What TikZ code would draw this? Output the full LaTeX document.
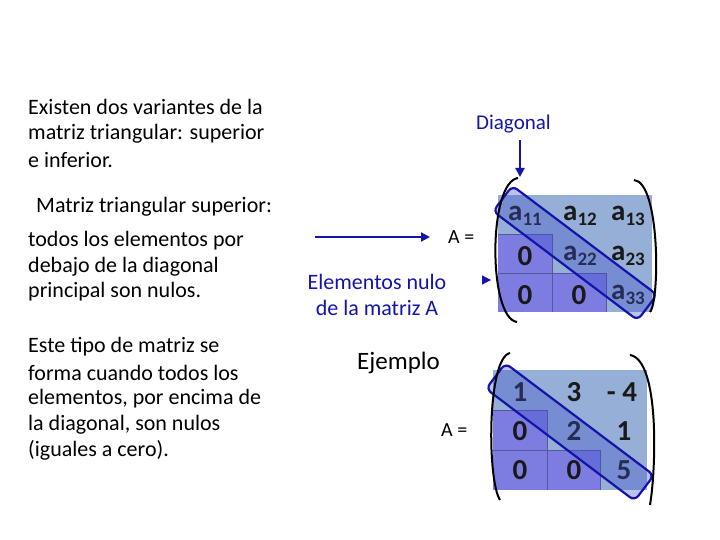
\documentclass[tikz,border=0pt]{standalone}
\usepackage{fontspec}
\setmainfont{Carlito}
\usetikzlibrary{arrows.meta}
\definecolor{dblue}{RGB}{20,20,170}
\definecolor{cellgray}{RGB}{150,175,215}
\definecolor{cellpur}{RGB}{125,125,225}
\definecolor{diagfill}{RGB}{60,80,200}
\tikzset{
 txt/.style={anchor=west,inner sep=0pt,font=\fontsize{22}{24}\selectfont},
 num/.style={inner sep=0pt,font=\fontsize{29}{30}\selectfont\bfseries,text=black!90},
 diag/.style={draw=dblue,line width=2.2pt,fill=diagfill,fill opacity=0.35,rounded corners=6pt},
 brk/.style={line width=2pt},
 arr/.style={dblue,line width=2pt,-{Triangle[length=9pt,width=9pt]}}
}
\newcommand{\sbs}[1]{\raisebox{-5pt}{\fontsize{19}{20}\selectfont #1}}
\begin{document}
\begin{tikzpicture}[x=1pt,y=-1pt]
\useasboundingbox (0,0) rectangle (720,540);
% left texts
\node[txt] (t1) at (28,107) {Existen dos variantes de la};
\node[txt] (t2) at (28,134) {matriz triangular: superior};
\node[txt] (t3) at (28,160) {e inferior.};
\node[txt] (t4) at (36,207) {Matriz triangular superior:};
\node[txt] (t5) at (28,241) {todos los elementos por};
\node[txt] (t6) at (28,267) {debajo de la diagonal};
\node[txt] (t7) at (28,292) {principal son nulos.};
\node[txt] (t8) at (28,347) {Este tipo de matriz se};
\node[txt] (t9) at (28,373) {forma cuando todos los};
\node[txt] (t10) at (28,399) {elementos, por encima de};
\node[txt] (t11) at (28,425) {la diagonal, son nulos};
\node[txt] (t12) at (28,450) {(iguales a cero).};
% labels
\node[txt,text=dblue,font=\fontsize{21}{24}\selectfont] (dg) at (476,124) {Diagonal};
\node[txt,text=dblue,anchor=center,align=center,font=\fontsize{22}{26}\selectfont] (el) at (377,295) {Elementos nulo\\de la matriz A};
\node[txt,font=\fontsize{25}{28}\selectfont] (ej) at (357,363) {Ejemplo};
\node[txt,font=\fontsize{20}{24}\selectfont] (a1) at (448,237) {A =};
\node[txt,font=\fontsize{20}{24}\selectfont] (a2) at (441,430) {A =};
\coordinate (s1) at (315,237); \coordinate (e1) at (430,237);
\draw[arr] (s1) -- (e1);
\coordinate (s2) at (520,140); \coordinate (e2) at (520,177);
\draw[arr] (s2) -- (e2);
\coordinate (s3) at (482,280); \coordinate (e3) at (491,280);
\draw[arr,line width=1pt] (s3) -- (e3);
% matrix 1
\fill[cellgray] (498,195) rectangle (652,312);
\fill[cellpur] (498,234) rectangle (552,312);
\fill[cellpur] (552,273) rectangle (606,312);
\draw[cellpur!70!black,line width=0.4pt] (498,234)--(552,234)--(552,312) (498,273)--(606,273)--(606,312);
\node[num] (m11) at (525,216) {a\sbs{11}};
\node[num] (m12) at (580,216) {a\sbs{12}};
\node[num] (m13) at (628,216) {a\sbs{13}};
\node[num] (m21) at (525,256) {0};
\node[num] (m22) at (580,256) {a\sbs{22}};
\node[num] (m23) at (628,256) {a\sbs{23}};
\node[num] (m31) at (525,295) {0};
\node[num] (m32) at (579,295) {0};
\node[num] (m33) at (628,295) {a\sbs{33}};
\draw[diag,rotate around={-37:(575,253)}] (484.5,237) rectangle (665.5,269);
\draw[brk] (518,178) .. controls (488,182) and (488,318) .. (517,322);
\draw[brk] (634,180) .. controls (660,182) and (660,300) .. (650,312);
% matrix 2
\fill[cellgray] (493,370) rectangle (647,490);
\fill[cellpur] (493,410) rectangle (547,490);
\fill[cellpur] (547,450) rectangle (600,490);
\draw[cellpur!70!black,line width=0.4pt] (493,410)--(547,410)--(547,490) (493,450)--(600,450)--(600,490);
\node[num] (n11) at (520,392) {1};
\node[num] (n12) at (574,392) {3};
\node[num] (n13) at (622,392) {- 4};
\node[num] (n21) at (520,431) {0};
\node[num] (n22) at (574,431) {2};
\node[num] (n23) at (624,431) {1};
\node[num] (n31) at (520,470) {0};
\node[num] (n32) at (574,470) {0};
\node[num] (n33) at (624,470) {5};
\draw[diag,rotate around={-37:(570,432)}] (477,416) rectangle (663,448);
\draw[brk] (510,353) .. controls (487,358) and (487,480) .. (500,500);
\draw[brk] (630,355) .. controls (660,360) and (656,470) .. (650,505);
\end{tikzpicture}
\end{document}
